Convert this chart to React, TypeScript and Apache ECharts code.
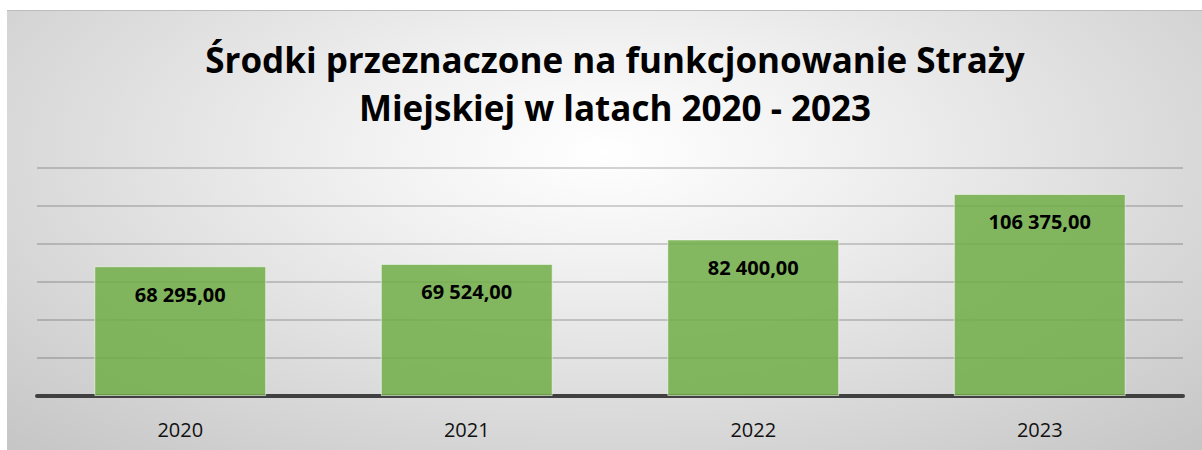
import React, { useEffect, useRef } from "react";
import * as echarts from "echarts";

const categories = ["2020", "2021", "2022", "2023"];
const values = [68295, 69524, 82400, 106375];
const titleLines = ["Środki przeznaczone na funkcjonowanie Straży", "Miejskiej w latach 2020 - 2023"];

const fmt = (v: number) => {
  const [i, d] = v.toFixed(2).split(".");
  return i.replace(/\B(?=(\d{3})+(?!\d))/g, " ") + "," + d;
};

export default function App() {
  const ref = useRef<HTMLDivElement>(null);
  useEffect(() => {
    if (!ref.current) return;
    const chart = echarts.init(ref.current, null, { renderer: "svg" });
    chart.setOption({
      animation: false,
      backgroundColor: "transparent",
      title: {
        text: titleLines.join("\n"),
        left: 603,
        top: 19,
        textAlign: "center",
        textStyle: {
          fontFamily: "Open Sans",
          fontWeight: "bold",
          fontSize: 35,
          lineHeight: 48,
          color: "#000",
        },
      },
      grid: { left: 30, right: 19, top: 157, bottom: 54, containLabel: false },
      xAxis: {
        type: "category",
        data: categories,
        axisLine: { lineStyle: { color: "#404040", width: 4 } },
        axisTick: { show: false },
        axisLabel: { color: "#111", fontSize: 20, fontFamily: "Open Sans", margin: 23 },
      },
      yAxis: {
        type: "value",
        min: 0,
        max: 120000,
        interval: 20000,
        axisLabel: { show: false },
        axisLine: { show: false },
        axisTick: { show: false },
        splitLine: { lineStyle: { color: "rgba(0,0,0,0.17)", width: 2 } },
      },
      series: [
        {
          type: "bar",
          data: values,
          barWidth: "60%",
          itemStyle: {
            color: "rgba(112,173,71,0.85)",
            borderColor: "rgba(255,255,255,0.55)",
            borderWidth: 1,
          },
          label: {
            show: true,
            position: "insideTop",
            distance: 18,
            formatter: (p: any) => fmt(p.value),
            color: "#000",
            fontWeight: "bold",
            fontSize: 20,
            fontFamily: "Open Sans",
          },
        },
      ],
    });
    return () => chart.dispose();
  }, []);
  return (
    <div
      style={{
        position: "absolute",
        left: 7,
        top: 10,
        width: 1195,
        height: 440,
        borderTop: "1px solid #bcbcbc",
        boxSizing: "border-box",
        background: "radial-gradient(ellipse 75% 95% at 50% 32%, #ffffff 0%, #f2f2f2 25%, #c4c4c4 100%)",
      }}
    >
      <div ref={ref} style={{ width: 1195, height: 439 }} />
    </div>
  );
}
